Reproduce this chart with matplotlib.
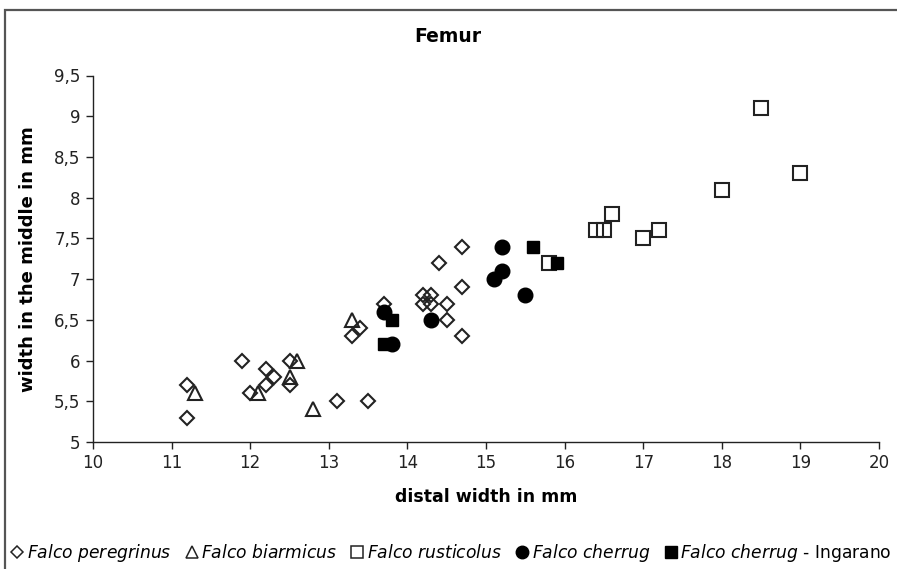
import matplotlib.pyplot as plt
from matplotlib.lines import Line2D
from matplotlib.patches import Rectangle

# Datos (anchura distal, anchura en el medio)
peregrinus_x = [11.2, 11.2, 11.9, 12.0, 12.2, 12.3, 12.2, 12.5, 12.5, 13.1, 13.5, 13.3,
                13.4, 13.7, 14.2, 14.3, 14.2, 14.3, 14.4, 14.5, 14.5, 14.7, 14.7, 14.7]
peregrinus_y = [5.7, 5.3, 6.0, 5.6, 5.9, 5.8, 5.7, 6.0, 5.7, 5.5, 5.5, 6.3,
                6.4, 6.7, 6.8, 6.8, 6.7, 6.7, 7.2, 6.7, 6.5, 7.4, 6.9, 6.3]

biarmicus_x = [11.3, 12.1, 12.5, 12.6, 12.8, 13.3]
biarmicus_y = [5.6, 5.6, 5.8, 6.0, 5.4, 6.5]

rusticolus_x = [15.8, 16.4, 16.5, 16.6, 17.0, 17.2, 18.0, 18.5, 19.0]
rusticolus_y = [7.2, 7.6, 7.6, 7.8, 7.5, 7.6, 8.1, 9.1, 8.3]

cherrug_x = [13.7, 13.8, 14.3, 15.1, 15.2, 15.2, 15.5]
cherrug_y = [6.6, 6.2, 6.5, 7.0, 7.1, 7.4, 6.8]

ingarano_x = [13.7, 13.8, 15.6, 15.9]
ingarano_y = [6.2, 6.5, 7.4, 7.2]

x_ticks = [10, 11, 12, 13, 14, 15, 16, 17, 18, 19, 20]
y_ticks = [5, 5.5, 6, 6.5, 7, 7.5, 8, 8.5, 9, 9.5]
y_tick_labels = ["5", "5,5", "6", "6,5", "7", "7,5", "8", "8,5", "9", "9,5"]

plt.rcParams['font.family'] = ['DejaVu Sans']
plt.rcParams['mathtext.fontset'] = 'dejavusans'

W, H = 897, 569
fig = plt.figure(figsize=(W / 100, H / 100), dpi=100)
ax = fig.add_axes([93 / W, 1 - 442 / H, (879 - 93) / W, (442 - 75.5) / H])

edge = '#222222'
ax.plot(peregrinus_x, peregrinus_y, linestyle='none', marker='D', markersize=7.3,
        mfc='none', mec=edge, mew=1.5)
ax.plot(biarmicus_x, biarmicus_y, linestyle='none', marker='^', markersize=10.5,
        mfc='none', mec=edge, mew=1.5)
ax.plot(rusticolus_x, rusticolus_y, linestyle='none', marker='s', markersize=10.5,
        mfc='none', mec=edge, mew=1.5)
ax.plot(cherrug_x, cherrug_y, linestyle='none', marker='o', markersize=10.5,
        mfc='black', mec='black')
ax.plot(ingarano_x, ingarano_y, linestyle='none', marker='s', markersize=8.5,
        mfc='black', mec='black')

ax.set_xlim(10, 20)
ax.set_ylim(5, 9.5)
ax.set_xticks(x_ticks)
ax.set_yticks(y_ticks)
ax.set_yticklabels(y_tick_labels)
ax.tick_params(direction='out', length=5, width=1, labelsize=12, colors='#222222', pad=4)
ax.spines['top'].set_visible(False)
ax.spines['right'].set_visible(False)
for s in ['left', 'bottom']:
    ax.spines[s].set_color('#222222')
    ax.spines[s].set_linewidth(1)

ax.set_xlabel("distal width in mm", fontsize=12.5, fontweight='bold', labelpad=11)
ax.set_ylabel("width in the middle in mm", fontsize=13, fontweight='bold', labelpad=12)
fig.text(448 / W, 1 - 37 / H, "Femur", fontsize=13.5, fontweight='bold',
         ha='center', va='center')

# Leyenda abajo
handles = [
    Line2D([], [], linestyle='none', marker='D', markersize=6.5, mfc='none', mec=edge, mew=1.1),
    Line2D([], [], linestyle='none', marker='^', markersize=9, mfc='none', mec=edge, mew=1.1),
    Line2D([], [], linestyle='none', marker='s', markersize=9, mfc='none', mec=edge, mew=1.1),
    Line2D([], [], linestyle='none', marker='o', markersize=9, mfc='black', mec='black'),
    Line2D([], [], linestyle='none', marker='s', markersize=9, mfc='black', mec='black'),
]
labels = [r"$\mathit{Falco\ peregrinus}$", r"$\mathit{Falco\ biarmicus}$",
          r"$\mathit{Falco\ rusticolus}$", r"$\mathit{Falco\ cherrug}$",
          r"$\mathit{Falco\ cherrug}$ - Ingarano"]
fig.legend(handles, labels, loc='center', bbox_to_anchor=(451 / W, 1 - 553 / H),
           ncol=5, frameon=False, fontsize=12.3, handlelength=0.8,
           handletextpad=0.15, columnspacing=0.8, borderaxespad=0, borderpad=0)

# Marco del grafico (recortado a la derecha y abajo)
fig.patches.append(Rectangle((4.5 / W, -0.1), 1.2, 1 - 9.5 / H + 0.1,
                             transform=fig.transFigure, fill=False,
                             edgecolor='#555555', linewidth=1.6))

fig.savefig("out.png", dpi=100)
